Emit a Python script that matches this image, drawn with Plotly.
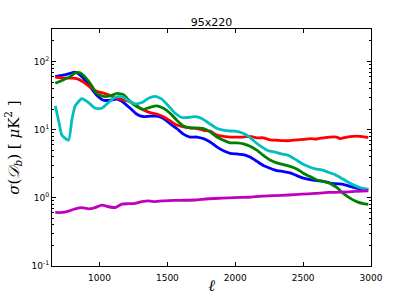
import plotly.graph_objects as go

# ---- data ----
ell_blue = [674, 710, 772, 821, 870, 919, 980, 1029, 1079, 1128, 1177, 1226, 1275, 1324, 1373, 1422,
            1471, 1520, 1569, 1618, 1667, 1717, 1766, 1815, 1864, 1913, 1962, 2011, 2060, 2109, 2158,
            2207, 2256, 2306, 2355, 2404, 2453, 2502, 2551, 2600, 2649, 2698, 2747, 2796, 2845, 2894,
            2943, 2980]
blue = [60, 62, 66, 70, 60, 46, 32, 27, 27, 28, 25, 20.6, 16.8, 15.5, 15.8, 15.8,
        14.6, 12.3, 10.4, 8.6, 7.8, 7.8, 7.4, 6.6, 5.6, 4.9, 4.5, 4.4, 4.3, 3.96, 3.45,
        2.98, 2.72, 2.51, 2.43, 2.32, 2.12, 1.95, 1.85, 1.79, 1.75, 1.65, 1.61, 1.58, 1.47, 1.39,
        1.34, 1.31]

ell_red = [674, 735, 796, 833, 882, 931, 980, 1029, 1079, 1128, 1177, 1226, 1275, 1324, 1373, 1422,
           1471, 1520, 1569, 1618, 1667, 1717, 1766, 1815, 1864, 1913, 1962, 2011, 2060, 2109, 2158,
           2207, 2256, 2306, 2355, 2404, 2453, 2502, 2551, 2600, 2649, 2698, 2747, 2772, 2821, 2870,
           2919, 2980]
red = [59, 57, 57, 56, 50, 42, 36.5, 34.3, 31.7, 29, 27.3, 25.8, 22.3, 19.4, 17.8, 17,
       15.5, 13.5, 11.7, 11, 10.6, 10.4, 9.8, 9.5, 8.3, 8.0, 7.8, 7.8, 7.8, 8.0, 7.6,
       7.6, 7.1, 7.0, 6.9, 6.9, 7.1, 7.2, 7.4, 7.3, 7.6, 7.8, 7.8, 7.4, 7.8, 8.0,
       8.0, 7.7]

ell_green = [674, 735, 784, 821, 858, 894, 931, 980, 1029, 1079, 1128, 1177, 1226, 1275, 1324, 1373,
             1422, 1471, 1520, 1569, 1618, 1667, 1717, 1766, 1815, 1864, 1913, 1962, 2011, 2060, 2109,
             2158, 2207, 2256, 2306, 2355, 2404, 2453, 2502, 2551, 2600, 2649, 2698, 2747, 2796, 2845,
             2894, 2943, 2980]
green = [48, 54, 60, 68, 68, 59, 48, 34, 30.7, 31.3, 34, 32.5, 25.8, 21.8, 19.9, 21.3,
         22.3, 20.6, 17.4, 13.8, 11.3, 10.6, 10.6, 10.4, 9.3, 7.8, 7.0, 6.4, 6.4, 6.2, 5.7,
         5.0, 4.2, 3.6, 3.26, 3.08, 2.9, 2.66, 2.3, 2.05, 1.83, 1.75, 1.63, 1.42, 1.16, 0.99,
         0.88, 0.82, 0.80]

ell_cyan = [674, 698, 723, 772, 796, 821, 870, 919, 968, 1017, 1066, 1115, 1164, 1213, 1263, 1312,
            1361, 1410, 1459, 1508, 1557, 1606, 1655, 1704, 1753, 1802, 1852, 1901, 1950, 1999, 2048,
            2097, 2146, 2195, 2244, 2293, 2342, 2391, 2440, 2490, 2539, 2588, 2637, 2686, 2735, 2784,
            2833, 2882, 2931, 2980]
cyan = [22.3, 13.8, 8.3, 7.0, 13.8, 22.3, 28.6, 25, 20.6, 20.6, 25, 30, 30.7, 26.6, 23.9, 25,
        28.9, 30.7, 28, 22.3, 17.4, 15.1, 15.1, 15.5, 14.6, 12.6, 10.8, 9.9, 9.6, 9.5, 9.0,
        8.0, 6.6, 5.6, 4.9, 4.7, 4.4, 4.2, 3.7, 3.2, 2.88, 2.66, 2.57, 2.37, 2.19, 1.93,
        1.69, 1.51, 1.39, 1.34]

ell_magenta = [674, 723, 772, 821, 870, 919, 968, 1017, 1066, 1115, 1164, 1213, 1263, 1312, 1361, 1410,
               1459, 1508, 1606, 1704, 1802, 1901, 1999, 2097, 2195, 2293, 2391, 2490, 2588, 2686,
               2784, 2882, 2980]
magenta = [0.61, 0.61, 0.64, 0.69, 0.72, 0.69, 0.72, 0.78, 0.74, 0.72, 0.81, 0.82, 0.83, 0.88, 0.90, 0.88,
           0.90, 0.91, 0.92, 0.93, 0.97, 0.99, 1.01, 1.02, 1.06, 1.08, 1.10, 1.13, 1.16, 1.20,
           1.21, 1.24, 1.27]

x_ticks = [1000, 1500, 2000, 2500, 3000]
y_ticks = [0.1, 1, 10, 100]
y_ticktext = ["10<sup>-1</sup>", "10<sup>0</sup>", "10<sup>1</sup>", "10<sup>2</sup>"]
y_minor = [m * d for d in [0.1, 1, 10, 100] for m in range(2, 10) if m * d <= 300]

series = [
    (ell_blue, blue, "#0000ff"),
    (ell_red, red, "#ff0000"),
    (ell_green, green, "#008000"),
    (ell_cyan, cyan, "#00bfbf"),
    (ell_magenta, magenta, "#bf00bf"),
]

fig = go.Figure()
for xs, ys, c in series:
    fig.add_trace(go.Scatter(x=xs, y=ys, mode="lines",
                             line=dict(color=c, width=2.8, shape="spline", smoothing=0.5),
                             showlegend=False, hoverinfo="skip"))

fig.update_layout(
    width=413, height=295,
    margin=dict(l=52, r=42, t=29, b=29, autoexpand=False),
    paper_bgcolor="white", plot_bgcolor="white",
    font=dict(family="DejaVu Sans", size=9, color="black"),
    title=dict(text="95x220", x=0.5, xanchor="center", xref="paper",
               y=1, yref="paper", yanchor="bottom", pad=dict(b=3), automargin=False,
               font=dict(size=11, family="DejaVu Sans", color="black")),
)
fig.update_xaxes(
    range=[650, 3000], tickvals=x_ticks, ticktext=[str(v) for v in x_ticks],
    ticks="inside", ticklen=4, tickcolor="black", mirror="allticks", automargin=False,
    ticklabelstandoff=3,
    showline=True, linecolor="black", linewidth=1, showgrid=False, zeroline=False,
    title=dict(text="<i>ℓ</i>", font=dict(family="DejaVu Serif", size=16), standoff=2),
)
fig.update_yaxes(
    type="log", range=[-1, 2.477], tickvals=y_ticks, ticktext=y_ticktext,
    ticks="inside", ticklen=4, tickcolor="black", mirror="allticks", automargin=False,
    showline=True, linecolor="black", linewidth=1, showgrid=False, zeroline=False,
    minor=dict(tickvals=y_minor, ticks="inside", ticklen=2, tickcolor="black", showgrid=False),
    title=dict(text="<i>σ</i>(<i>𝒟</i><sub><i>b</i></sub>) [ <i>μ</i>K<sup>2</sup> ]",
               font=dict(family="DejaVu Serif", size=15), standoff=8),
)

fig.write_html("out.html", config={"displayModeBar": False},
               post_script="document.body.style.margin='0';document.body.style.overflow='hidden';")
